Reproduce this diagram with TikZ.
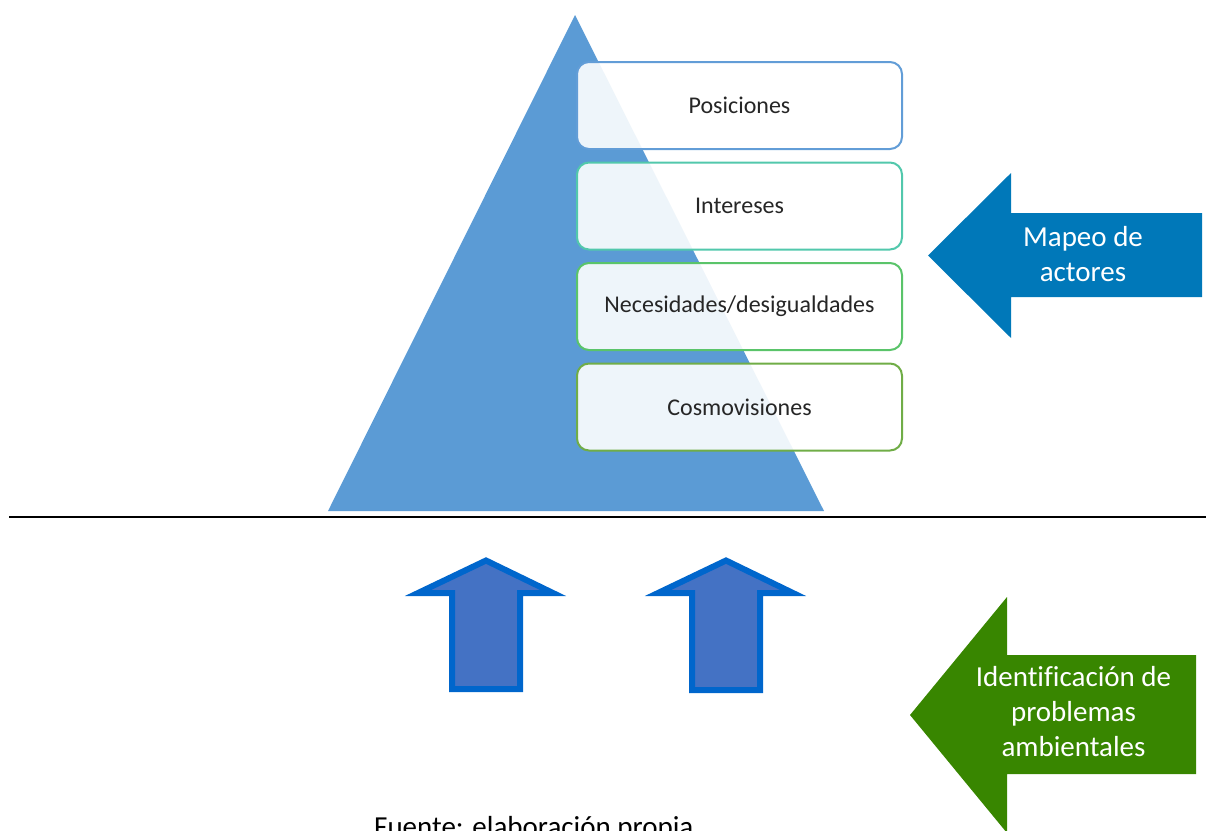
\documentclass[tikz,border=0pt]{standalone}
\usepackage{fontspec}
\setmainfont{Carlito}[Ligatures=NoCommon]
\newlength{\du}
\setlength{\du}{1pt}
\definecolor{pyramidcolor}{RGB}{91,155,213}
\definecolor{posicionescolor}{RGB}{98,157,215}
\definecolor{interesescolor}{RGB}{82,200,172}
\definecolor{necesidadescolor}{RGB}{90,196,106}
\definecolor{cosmocolor}{RGB}{112,173,71}
\definecolor{boxtext}{RGB}{38,38,38}
\definecolor{upoutline}{RGB}{0,102,204}
\definecolor{upfill}{RGB}{68,114,196}
\definecolor{mapeocolor}{RGB}{0,120,185}
\definecolor{problemascolor}{RGB}{56,134,0}
\tikzset{
  levelbox/.style={draw, rounded corners=12\du, line width=2\du, fill=white,
    fill opacity=0.9, text opacity=1, minimum width=325\du, minimum height=87\du,
    inner sep=0pt, text=boxtext, font=\fontsize{24}{29}\selectfont},
  upshape/.style={draw=upoutline, fill=upfill, line width=6\du, miter limit=10},
  sidetext/.style={text=white, align=center, inner sep=0pt,
    font=\fontsize{29}{35}\selectfont},
}

\begin{document}
\begin{tikzpicture}
\pgftransformxscale{1.000000}
\pgftransformyscale{-1.000000}
\useasboundingbox (0\du,0\du) rectangle (1206\du,830\du);
% pyramid
\fill[pyramidcolor] (575.000000\du,15.000000\du)--(824.000000\du,511.000000\du)--(328.000000\du,511.000000\du)--cycle;
% levels
\node[levelbox, draw=posicionescolor] (posiciones) at (739.500000\du,105.500000\du){Posiciones};
\node[levelbox, draw=interesescolor] (intereses) at (739.500000\du,206.000000\du){Intereses};
\node[levelbox, draw=necesidadescolor] (necesidades) at (739.500000\du,306.500000\du){Necesidades/desigualdades};
\node[levelbox, draw=cosmocolor] (cosmovisiones) at (739.500000\du,407.000000\du){Cosmovisiones};
% separator
\draw[line width=2.5\du] (9.000000\du,517.000000\du)--(1206.000000\du,517.000000\du);
% up arrows
\filldraw[upshape] (486.000000\du,560.500000\du)--(553.000000\du,593.000000\du)--(520.000000\du,593.000000\du)--(520.000000\du,689.000000\du)--(452.000000\du,689.000000\du)--(452.000000\du,593.000000\du)--(418.000000\du,593.000000\du)--cycle;
\filldraw[upshape] (726.000000\du,560.500000\du)--(793.000000\du,593.000000\du)--(760.000000\du,593.000000\du)--(760.000000\du,690.000000\du)--(692.000000\du,690.000000\du)--(692.000000\du,593.000000\du)--(658.000000\du,593.000000\du)--cycle;
% left arrows
\fill[mapeocolor] (928.000000\du,255.500000\du)--(1011.000000\du,173.000000\du)--(1011.000000\du,213.000000\du)--(1202.000000\du,213.000000\du)--(1202.000000\du,297.000000\du)--(1011.000000\du,297.000000\du)--(1011.000000\du,338.000000\du)--cycle;
\node[sidetext] (mapeo) at (1083.000000\du,254.000000\du){Mapeo de\\actores};
\fill[problemascolor] (910.000000\du,715.000000\du)--(1007.000000\du,597.000000\du)--(1007.000000\du,655.000000\du)--(1196.000000\du,655.000000\du)--(1196.000000\du,774.000000\du)--(1007.000000\du,774.000000\du)--(1007.000000\du,833.000000\du)--cycle;
\node[sidetext] (problemas) at (1073.500000\du,712.000000\du){Identificación de\\problemas\\ambientales};
% source line
\node[anchor=base west, inner sep=0pt, font=\fontsize{29}{35}\selectfont] (fuente) at (374.000000\du,836.000000\du){Fuente: elaboración propia};
\end{tikzpicture}
\end{document}
